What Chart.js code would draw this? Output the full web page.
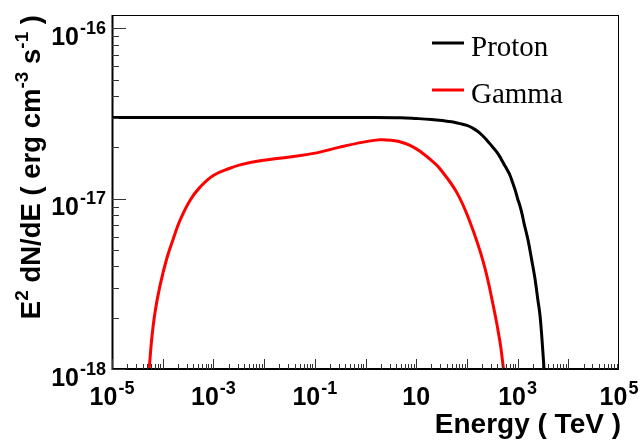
<!DOCTYPE html>
<html lang="en">
  <head>
    <meta charset="UTF-8" />
    <title>Proton and gamma spectra</title>
    <script src="https://cdn.jsdelivr.net/npm/chart.js"></script>
    <style>
      html, body { margin: 0; padding: 0; background: #fff; }
      #wrap { width: 642px; height: 440px; }
    </style>
  </head>
  <body>
    <div id="wrap"><canvas id="spectrum" width="642" height="440"></canvas></div>
    <script>
      // Energy in TeV, E^2 dN/dE in erg cm^-3 s^-1
      const protonE = [1e-5, 1e-3, 0.1, 1, 5, 10, 20, 35, 50, 70, 100, 130, 160, 200, 250, 310, 390, 470, 550, 630, 710, 800, 900, 1000, 1110, 1230, 1350, 1490, 1630, 1900, 2200, 2500, 2770, 3050, 3310, 3630];
      const protonFlux = [3.0e-17, 3.0e-17, 3.0e-17, 3.0e-17, 2.99e-17, 2.96e-17, 2.92e-17, 2.87e-17, 2.83e-17, 2.77e-17, 2.7e-17, 2.6e-17, 2.5e-17, 2.36e-17, 2.2e-17, 2.04e-17, 1.88e-17, 1.72e-17, 1.58e-17, 1.47e-17, 1.37e-17, 1.24e-17, 1.12e-17, 1.0e-17, 9.1e-18, 8.1e-18, 7.1e-18, 6.3e-18, 5.6e-18, 4.36e-18, 3.4e-18, 2.57e-18, 2.06e-18, 1.45e-18, 1.02e-18, 7.0e-19];

      const gammaE = [5.0e-5, 5.4e-5, 6.07e-5, 7.05e-5, 8.85e-5, 1.2e-4, 1.62e-4, 2.19e-4, 3.45e-4, 5.45e-4, 9.95e-4, 2.12e-3, 3.35e-3, 8.3e-3, 0.0324, 0.109, 0.314, 0.906, 1.93, 3.53, 4.79, 7.55, 11.9, 21.8, 29.4, 63, 115, 211, 331, 450, 522, 575];
      const gammaFlux = [8.0e-19, 1.0e-18, 1.5e-18, 2.15e-18, 3.09e-18, 4.44e-18, 5.82e-18, 7.46e-18, 9.77e-18, 1.17e-17, 1.37e-17, 1.51e-17, 1.58e-17, 1.67e-17, 1.76e-17, 1.86e-17, 2.01e-17, 2.15e-17, 2.22e-17, 2.2e-17, 2.16e-17, 2.06e-17, 1.9e-17, 1.64e-17, 1.5e-17, 1.09e-17, 7.3e-18, 4.24e-18, 2.36e-18, 1.44e-18, 1.02e-18, 8.1e-19];

      const seriesNames = ["Proton", "Gamma"];
      const seriesColors = ["#000000", "#ff0000"];

      // labelled decades (others get a bare tick)
      const xLabelExps = [-5, -3, -1, 1, 3, 5];
      const yLabelExps = [-18, -17, -16];
      const xRange = [1e-5, 1e5];
      const yRange = [1e-18, 1.2e-16];

      const toPoints = (xs, ys) => xs.map((x, i) => ({ x: x, y: ys[i] }));

      const BOLD = "'Liberation Sans', Arial, sans-serif";

      // "10" with a raised exponent; returns the width it takes
      function powWidth(ctx, exp, size, supSize) {
        ctx.font = "bold " + size + "px " + BOLD;
        let w = ctx.measureText("10").width;
        if (exp !== 1) {
          ctx.font = "bold " + supSize + "px " + BOLD;
          w += 1 + ctx.measureText(String(exp)).width;
        }
        return w;
      }

      function drawPow(ctx, exp, x, y, size, supSize, rise) {
        ctx.font = "bold " + size + "px " + BOLD;
        ctx.fillText("10", x, y);
        if (exp !== 1) {
          const w = ctx.measureText("10").width;
          ctx.font = "bold " + supSize + "px " + BOLD;
          ctx.fillText(String(exp), x + w + 1, y - rise);
        }
      }

      // runs of [text, isSuperscript]
      function drawRuns(ctx, runs, x, y, size, supSize, rise) {
        let cx = x;
        runs.forEach(([t, sup]) => {
          ctx.font = "bold " + (sup ? supSize : size) + "px " + BOLD;
          ctx.fillText(t, cx, sup ? y - rise : y);
          cx += ctx.measureText(t).width;
        });
        return cx - x;
      }

      function runsWidth(ctx, runs, size, supSize) {
        let w = 0;
        runs.forEach(([t, sup]) => {
          ctx.font = "bold " + (sup ? supSize : size) + "px " + BOLD;
          w += ctx.measureText(t).width;
        });
        return w;
      }

      const frameAxes = {
        id: "frameAxes",
        afterDatasetsDraw(chart) {
          const { ctx, chartArea: a, scales } = chart;
          const xs = scales.x, ys = scales.y;
          ctx.save();

          // frame
          ctx.strokeStyle = "#000";
          ctx.lineWidth = 1;
          ctx.strokeRect(a.left + 0.5, a.top + 0.5, a.right - a.left - 1, a.bottom - a.top - 1);
          ctx.lineWidth = 2;
          ctx.beginPath();
          ctx.moveTo(a.left + 0.5, a.top);
          ctx.lineTo(a.left + 0.5, a.bottom);
          ctx.lineTo(a.right, a.bottom);
          ctx.stroke();

          // inward ticks on the bottom and left axes
          ctx.lineWidth = 1;
          ctx.strokeStyle = "#333";
          ctx.beginPath();
          for (let e = -5; e < 5; e++) {
            for (let m = 1; m <= 9; m++) {
              const v = m * Math.pow(10, e);
              const px = Math.round(xs.getPixelForValue(v)) + 0.5;
              const len = m === 1 ? 10 : 5;
              ctx.moveTo(px, a.bottom);
              ctx.lineTo(px, a.bottom - len);
            }
          }
          for (let e = -18; e <= -16; e++) {
            for (let m = 1; m <= 9; m++) {
              const v = m * Math.pow(10, e);
              if (v > yRange[1]) break;
              const py = Math.round(ys.getPixelForValue(v)) + 0.5;
              const len = m === 1 ? 14 : 7;
              ctx.moveTo(a.left, py);
              ctx.lineTo(a.left + len, py);
            }
          }
          ctx.stroke();

          // tick labels
          ctx.fillStyle = "#000";
          ctx.textAlign = "left";
          ctx.textBaseline = "alphabetic";
          xLabelExps.forEach(e => {
            const px = xs.getPixelForValue(Math.pow(10, e));
            const w = powWidth(ctx, e, 25, 18);
            drawPow(ctx, e, px - w / 2, 405, 25, 18, 11);
          });
          yLabelExps.forEach(e => {
            const py = ys.getPixelForValue(Math.pow(10, e));
            const w = powWidth(ctx, e, 25, 18);
            drawPow(ctx, e, 106 - w, py + 16.5, 25, 18, 11);
          });

          // x title, right aligned to the frame
          const xTitle = [["Energy ( TeV )", false]];
          const xw = runsWidth(ctx, xTitle, 28, 19);
          drawRuns(ctx, xTitle, 621 - xw, 433, 28, 19, 11);

          // y title, rotated, ending at the frame top
          const yTitle = [["E", false], ["2", true], [" dN/dE ( erg cm", false], ["-3", true], [" s", false], ["-1", true], [" )", false]];
          ctx.save();
          ctx.translate(40, a.top);
          ctx.rotate(-Math.PI / 2);
          const yw = runsWidth(ctx, yTitle, 27.5, 19);
          drawRuns(ctx, yTitle, -yw, 0, 27.5, 19, 12);
          ctx.restore();

          // legend
          const legendY = [43, 90];
          chart.data.datasets.forEach((ds, i) => {
            ctx.strokeStyle = ds.borderColor;
            ctx.lineWidth = 3;
            ctx.beginPath();
            ctx.moveTo(432, legendY[i]);
            ctx.lineTo(464, legendY[i]);
            ctx.stroke();
            ctx.fillStyle = "#000";
            ctx.font = "29px 'Liberation Serif', 'Times New Roman', serif";
            ctx.fillText(ds.label, 471, legendY[i] + 13);
          });

          ctx.restore();
        }
      };

      const lineStyle = {
        borderWidth: 3,
        pointRadius: 0,
        fill: false,
        tension: 0.4,
        clip: 0
      };

      new Chart(document.getElementById("spectrum"), {
        type: "line",
        data: {
          datasets: [
            Object.assign({
              label: seriesNames[0],
              data: toPoints(protonE, protonFlux),
              borderColor: seriesColors[0]
            }, lineStyle),
            Object.assign({
              label: seriesNames[1],
              data: toPoints(gammaE, gammaFlux),
              borderColor: seriesColors[1]
            }, lineStyle)
          ]
        },
        options: {
          responsive: false,
          animation: false,
          devicePixelRatio: 1,
          layout: { padding: { left: 112, right: 23, top: 15, bottom: 71 } },
          scales: {
            x: { type: "logarithmic", min: xRange[0], max: xRange[1], display: false },
            y: { type: "logarithmic", min: yRange[0], max: yRange[1], display: false }
          },
          plugins: {
            legend: { display: false },
            tooltip: { enabled: false }
          }
        },
        plugins: [frameAxes]
      });
    </script>
  </body>
</html>
